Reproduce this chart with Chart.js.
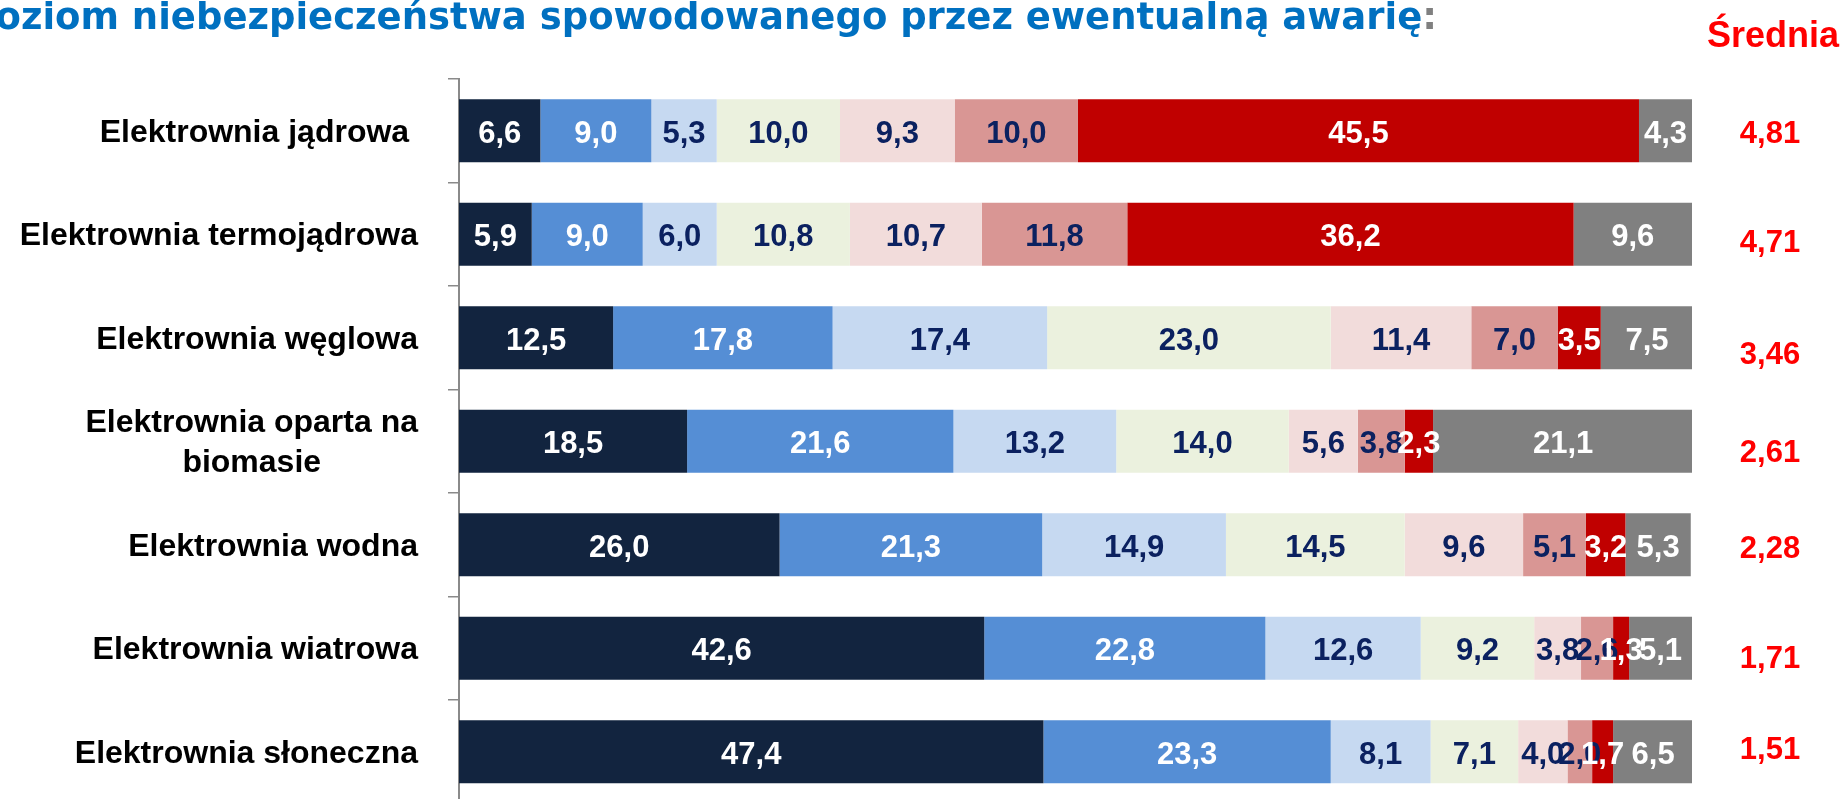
<!DOCTYPE html>
<html>
<head>
<meta charset="utf-8">
<script src="https://cdn.jsdelivr.net/npm/chart.js@4.4.1/dist/chart.umd.min.js"></script>
<style>
	html, body { margin: 0; padding: 0; background: #fff; overflow: hidden; }
	canvas { display: block; }
</style>
</head>
<body>
<canvas id="chart" width="1845" height="805"></canvas>
<script>
// kategorie (wiersze)
const categories = [
	"Elektrownia jądrowa ",
	"Elektrownia termojądrowa",
	"Elektrownia węglowa",
	["Elektrownia oparta na", "biomasie"],
	"Elektrownia wodna",
	"Elektrownia wiatrowa",
	"Elektrownia słoneczna",
];

const seriesNames = ["1", "2", "3", "4", "5", "6", "7", "Trudno powiedzieć"];

// wartości w % dla każdej odpowiedzi
const s1 = [6.6, 5.9, 12.5, 18.5, 26.0, 42.6, 47.4];
const s2 = [9.0, 9.0, 17.8, 21.6, 21.3, 22.8, 23.3];
const s3 = [5.3, 6.0, 17.4, 13.2, 14.9, 12.6, 8.1];
const s4 = [10.0, 10.8, 23.0, 14.0, 14.5, 9.2, 7.1];
const s5 = [9.3, 10.7, 11.4, 5.6, 9.6, 3.8, 4.0];
const s6 = [10.0, 11.8, 7.0, 3.8, 5.1, 2.6, 2.0];
const s7 = [45.5, 36.2, 3.5, 2.3, 3.2, 1.3, 1.7];
const s8 = [4.3, 9.6, 7.5, 21.1, 5.3, 5.1, 6.5];

// średnia ocena
const averages = [4.81, 4.71, 3.46, 2.61, 2.28, 1.71, 1.51];

const series = [s1, s2, s3, s4, s5, s6, s7, s8];
const colors = ["#12243f", "#558ed5", "#c6d9f1", "#ebf1de", "#f2dcdb", "#d99694", "#c00000", "#808080"];
const textColors = ["#ffffff", "#ffffff", "#0b2160", "#0b2160", "#0b2160", "#0b2160", "#ffffff", "#ffffff"];

// przesunięcie pionowe pól tekstowych ze średnią (jak w oryginale)
const avgShift = [1, 7, 15, 10, 2, 9, -4];

const fmt = (v, d) => v.toFixed(d).replace(".", ",");
const LABEL_FONT = "'Liberation Sans', Arial, sans-serif";

const segmentLabels = {
	id: "segmentLabels",
	afterDatasetsDraw(chart) {
		const ctx = chart.ctx;
		ctx.save();
		ctx.font = "bold 31px " + LABEL_FONT;
		ctx.textAlign = "center";
		ctx.textBaseline = "alphabetic";
		chart.data.datasets.forEach((ds, i) => {
			const meta = chart.getDatasetMeta(i);
			ctx.fillStyle = textColors[i];
			meta.data.forEach((bar, j) => {
				const p = bar.getProps(["x", "y", "base"], true);
				ctx.fillText(fmt(ds.data[j], 1), (p.x + p.base) / 2, p.y + 12);
			});
		});
		ctx.restore();
	},
	afterDraw(chart) {
		const ctx = chart.ctx;
		const yScale = chart.scales.y;
		ctx.save();

		// etykiety kategorii
		ctx.fillStyle = "#000000";
		ctx.font = "bold 32px " + LABEL_FONT;
		ctx.textBaseline = "alphabetic";
		categories.forEach((cat, i) => {
			const lines = Array.isArray(cat) ? cat : [cat];
			const cy = yScale.getPixelForValue(i);
			const widest = Math.max(...lines.map((l) => ctx.measureText(l).width));
			const lineH = 40;
			const first = cy + 11 - ((lines.length - 1) * lineH) / 2;
			lines.forEach((l, k) => {
				ctx.textAlign = "center";
				ctx.fillText(l, 418 - widest / 2, first + k * lineH);
			});
		});

		// średnie
		ctx.fillStyle = "#ff0000";
		ctx.font = "bold 31px " + LABEL_FONT;
		ctx.textAlign = "center";
		averages.forEach((v, i) => {
			const cy = yScale.getPixelForValue(i) + avgShift[i];
			ctx.fillText(fmt(v, 2), 1770, cy + 11);
		});
		ctx.font = "bold 36px " + LABEL_FONT;
		ctx.fillText("Średnia", 1773, 47);

		// tytuł
		const main = "Poziom niebezpieczeństwa spowodowanego przez ewentualną awarię";
		const visible = "oziom niebezpieczeństwa spowodowanego przez ewentualną awarię:";
		ctx.font = "bold 36px 'DejaVu Sans', sans-serif";
		const size = (36 * 1442) / ctx.measureText(visible).width;
		ctx.font = "bold " + size.toFixed(2) + "px 'DejaVu Sans', sans-serif";
		ctx.textAlign = "right";
		ctx.fillStyle = "#808080";
		ctx.fillText(":", 1437, 29);
		const colonW = ctx.measureText(":").width;
		ctx.fillStyle = "#0070c0";
		ctx.fillText(main, 1437 - colonW, 29);

		ctx.restore();
	},
};

const datasets = series.map((data, i) => ({
	label: seriesNames[i],
	data: data,
	backgroundColor: colors[i],
	borderWidth: 0,
	barPercentage: 0.61,
	categoryPercentage: 1,
}));

new Chart(document.getElementById("chart").getContext("2d"), {
	type: "bar",
	data: {
		labels: categories,
		datasets: datasets,
	},
	plugins: [segmentLabels],
	options: {
		indexAxis: "y",
		responsive: false,
		animation: false,
		devicePixelRatio: 1,
		layout: { padding: { left: 0, right: 153, top: 79, bottom: 1.5 } },
		plugins: {
			legend: { display: false },
			tooltip: { enabled: false },
		},
		scales: {
			x: { stacked: true, min: 0, max: 100, display: false },
			y: {
				stacked: true,
				afterFit: (scale) => {
					scale.width = 459;
				},
				grid: {
					offset: true,
					drawOnChartArea: false,
					drawTicks: true,
					tickLength: 11,
					color: "#8a8a8a",
					lineWidth: 1.5,
				},
				border: { display: true, color: "#8a8a8a", width: 2 },
				ticks: { display: false },
			},
		},
	},
});
</script>
</body>
</html>
